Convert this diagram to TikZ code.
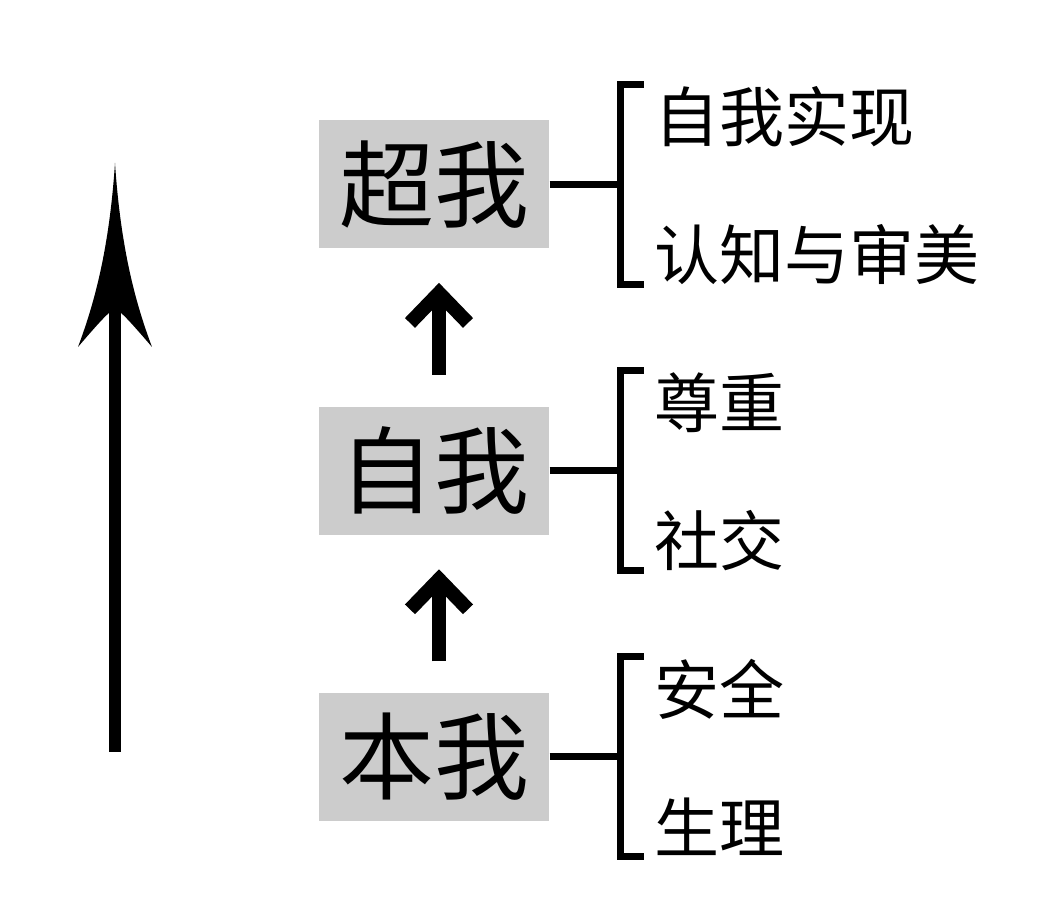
\documentclass[tikz,border=0pt]{standalone}
\usepackage{fontspec}
\usepackage{tikz}
\usetikzlibrary{arrows.meta,positioning}
\newfontfamily\cjk{Noto Sans CJK SC}
\definecolor{boxgray}{HTML}{CCCCCC}

\begin{document}
\begin{tikzpicture}[
  level/.style={fill=boxgray,minimum width=2.30cm,minimum height=1.28cm,inner sep=0pt,
    font=\cjk\fontsize{27}{27}\selectfont},
  lbl/.style={inner sep=0pt,anchor=west,font=\cjk\fontsize{18.5}{18.5}\selectfont},
  brk/.style={line width=0.07cm,line join=miter},
  steparrow/.style={line width=0.14cm,shorten <=0.31cm,shorten >=0.34cm,
    -{Straight Barb[sharp,length=0.30cm,width=0.58cm]}}]
  \useasboundingbox (0,0) rectangle (10.47,9.13);

  % the three levels
  \node[level] (ben) at (4.34,1.56) {本我};
  \node[level,above=1.57cm of ben] (zi) {自我};
  \node[level,above=1.57cm of zi] (chao) {超我};

  % arrows between levels
  \draw[steparrow] ([xshift=0.05cm]ben.north) -- ([xshift=0.05cm]zi.south);
  \draw[steparrow] ([xshift=0.05cm]zi.north) -- ([xshift=0.05cm]chao.south);

  % brackets and their labels
  \foreach \b/\u/\l in {chao/自我实现/认知与审美, zi/尊重/社交, ben/安全/生理} {
    \draw[brk] (\b.east) -- ++(0.71,0) coordinate (\b-j);
    \draw[brk] ([xshift=0.23cm,yshift=1.00cm]\b-j) -| ([yshift=-1.00cm]\b-j) -- ++(0.23,0);
    \node[lbl] (\b-u) at ([xshift=0.33cm,yshift=0.68cm]\b-j) {\u};
    \node[lbl] (\b-l) at ([xshift=0.33cm,yshift=-0.70cm]\b-j) {\l};
  }

  % big arrow on the left
  \coordinate (base) at (1.15,1.61);
  \coordinate (top) at (1.15,7.50);
  \draw[line width=0.12cm] (base) -- ([yshift=-1.30cm]top);
  \fill (top) .. controls ++(-0.06,-0.90) and ++(0.15,0.40) .. ++(-0.37,-1.84)
    .. controls ++(0.12,0.14) and ++(-0.06,-0.05) .. ++(0.31,0.34)
    -- ++(0.12,0)
    .. controls ++(0.06,-0.05) and ++(-0.12,0.14) .. ++(0.31,-0.34)
    .. controls ++(-0.15,0.40) and ++(0.06,-0.90) .. (top) -- cycle;
\end{tikzpicture}
\end{document}
